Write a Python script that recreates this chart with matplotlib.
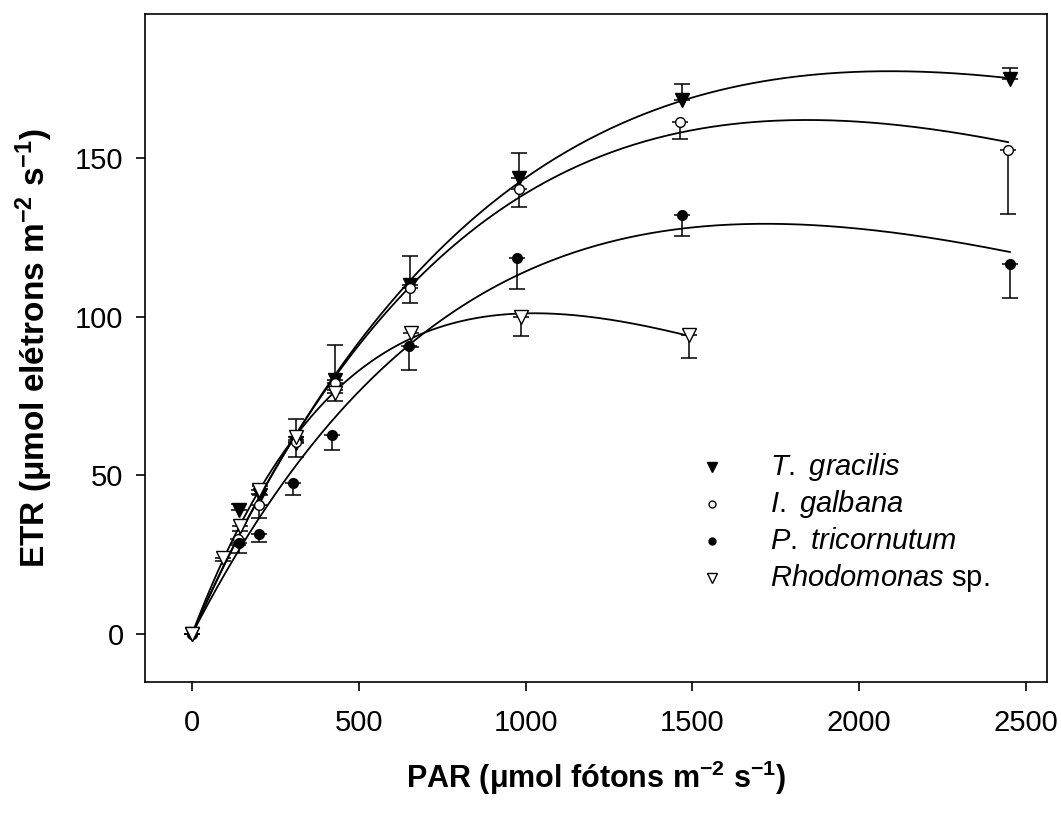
import numpy as np
import matplotlib
matplotlib.use("Agg")
import matplotlib.pyplot as plt

plt.rcParams['font.family'] = ['Liberation Sans', 'DejaVu Sans']
plt.rcParams['mathtext.fontset'] = 'custom'
plt.rcParams['mathtext.rm'] = 'Liberation Sans'
plt.rcParams['mathtext.it'] = 'Liberation Sans:italic'
plt.rcParams['mathtext.bf'] = 'Liberation Sans:bold'

# dados (PAR, ETR, erro)
par_tg = [0, 140, 203, 313, 429, 653, 981, 1468, 2452]
etr_tg = [0, 39, 43.8, 60.2, 80, 110, 143.7, 168.3, 175]
err_tg = [0, 2, 3, 7.5, 11, 9, 8, 5, 3.5]     # barras para cima

par_ig = [0, 138, 200, 313, 429, 653, 981, 1462, 2447]
etr_ig = [0, 30, 40.6, 60.5, 79, 109, 140.2, 161.4, 152.5]
err_ig = [0, 2, 4, 4.7, 2, 4.7, 5.6, 5.4, 20]  # barras para baixo

par_pt = [0, 140, 200, 304, 421, 650, 975, 1468, 2452]
etr_pt = [0, 28.7, 31.5, 47.6, 62.7, 90.8, 118.5, 132, 116.5]
err_pt = [0, 3, 2.5, 3.8, 4.7, 7.6, 9.8, 6.6, 10.5]

par_rh = [0, 92, 145, 200, 313, 429, 656, 987, 1489]
etr_rh = [0, 24, 34, 45.5, 62, 76, 94.8, 100, 94.2]
err_rh = [0, 1, 1.5, 1.5, 1, 2.6, 4.3, 6, 7.2]

nomes = ["$\\it{T.\\ gracilis}$", "$\\it{I.\\ galbana}$",
         "$\\it{P.\\ tricornutum}$", "$\\it{Rhodomonas}$ sp."]

escala = np.array([100.0, 0.1, 0.01])


def platt(p, x):
    # modelo de Platt com fotoinibicao
    ps, alfa, beta = p * escala
    return ps * (1 - np.exp(-alfa * x / ps)) * np.exp(-beta * x / ps)


def ajuste(x, y):
    x = np.array(x, float)
    y = np.array(y, float)
    p = np.array([1.3 * y.max(), y[1] / x[1], 0.005]) / escala
    sse = np.sum((platt(p, x) - y) ** 2)
    lam = 1e-2
    for _ in range(300):  # Levenberg-Marquardt simples
        r = platt(p, x) - y
        J = np.zeros((len(x), 3))
        for k in range(3):
            dp = np.zeros(3)
            dp[k] = 1e-6 * max(abs(p[k]), 1e-3)
            J[:, k] = (platt(p + dp, x) - platt(p, x)) / dp[k]
        A = J.T @ J
        g = J.T @ r
        passo = np.linalg.solve(A + lam * np.diag(np.diag(A)), -g)
        pn = p + passo
        sn = np.sum((platt(pn, x) - y) ** 2)
        if np.isfinite(sn) and sn < sse:
            p, sse, lam = pn, sn, lam * 0.3
        else:
            lam *= 10
    xx = np.linspace(0, x.max(), 300)
    return xx, platt(p, xx)


fig = plt.figure(figsize=(10.61, 8.19), dpi=100)
ax = fig.add_axes([0.1367, 0.1673, 0.850, 0.8156])

series = [
    (par_tg, etr_tg, err_tg, 'v', 'black', 'up'),
    (par_ig, etr_ig, err_ig, 'o', 'white', 'down'),
    (par_pt, etr_pt, err_pt, 'o', 'black', 'down'),
    (par_rh, etr_rh, err_rh, 'v', 'white', 'down'),
]

for i, (x, y, e, mk, fc, dirc) in enumerate(series):
    e = np.array(e)
    z = np.zeros_like(e)
    yerr = [z, e] if dirc == 'up' else [e, z]
    ax.errorbar(x, y, yerr=yerr, fmt='none', ecolor='black', elinewidth=1.1,
                capsize=6, capthick=1.1, zorder=2)
    xx, yy = ajuste(x, y)
    ax.plot(xx, yy, color='black', lw=1.3, zorder=3)
    ms = 9.5 if mk == 'v' else 7
    ax.plot(x, y, linestyle='none', marker=mk, ms=ms, mfc=fc, mec='black',
            mew=1.0, zorder=4)
    # legenda
    yl = 0.3219 - i * 0.0554
    ax.plot([0.629], [yl], transform=ax.transAxes, linestyle='none', marker=mk,
            ms=ms - 2, mfc=fc, mec='black', mew=1.0, clip_on=False)
    ax.text(0.693, yl, nomes[i], transform=ax.transAxes, fontsize=21,
            va='center', ha='left')

ax.set_xlim(-141, 2563)
ax.set_ylim(-15.1, 195.4)
ax.set_xticks([0, 500, 1000, 1500, 2000, 2500])
ax.set_yticks([0, 50, 100, 150])
ax.tick_params(direction='out', length=6.5, width=1.2, labelsize=21)
ax.tick_params(axis='x', pad=13)
ax.tick_params(axis='y', pad=9)
for s in ax.spines.values():
    s.set_linewidth(1.2)

ax.set_xlabel("PAR (μmol fótons m$^{\\mathbf{-2}}$ s$^{\\mathbf{-1}}$)",
              fontsize=22, fontweight='bold')
ax.set_ylabel("ETR (μmol elétrons m$^{\\mathbf{-2}}$ s$^{\\mathbf{-1}}$)",
              fontsize=24, fontweight='bold')
ax.xaxis.set_label_coords(0.5, -0.115)
ax.yaxis.set_label_coords(-0.1, 0.5)

fig.savefig("out.png", dpi=100)
